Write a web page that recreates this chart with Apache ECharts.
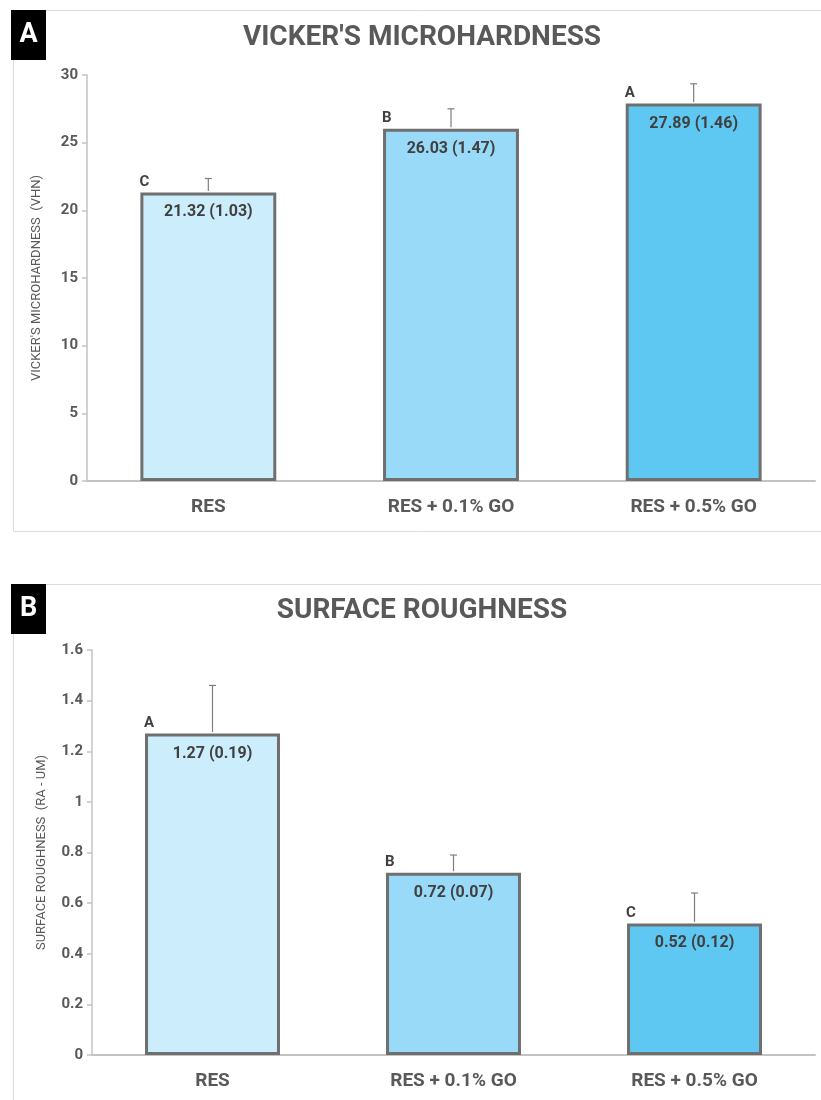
<!DOCTYPE html>
<html>
<head>
<meta charset="utf-8">
<script src="https://cdn.jsdelivr.net/npm/echarts@6/dist/echarts.min.js"></script>
<style>
  html, body { margin: 0; padding: 0; background: #fff; }
  #chart { width: 821px; height: 1100px; }
</style>
</head>
<body>
<div id="chart"></div>
<script>
// groups on the x axis
var groups = ['RES', 'RES + 0.1% GO', 'RES + 0.5% GO'];

// panel A - vicker's microhardness
var vhnMean = [21.32, 26.03, 27.89];
var vhnSd = [1.03, 1.47, 1.46];
var vhnLetters = ['C', 'B', 'A'];

// panel B - surface roughness
var raMean = [1.27, 0.72, 0.52];
var raSd = [0.19, 0.07, 0.12];
var raLetters = ['A', 'B', 'C'];

var barColors = ['#CCEDFB', '#98DAF7', '#5EC8F2'];
var gray = '#595959';
var font = 'Roboto, "Liberation Sans", sans-serif';
var barFrac = 0.56;

function barSeries(idx, means, sds) {
    return {
        type: 'bar',
        xAxisIndex: idx,
        yAxisIndex: idx,
        barWidth: (barFrac * 100) + '%',
        data: means.map(function (v, i) {
            return {
                value: v,
                itemStyle: { color: barColors[i], borderColor: '#6f6f6f', borderWidth: 3 }
            };
        }),
        label: {
            show: true,
            position: 'insideTop',
            distance: 12,
            color: '#404040',
            fontFamily: font,
            fontWeight: 'bold',
            fontSize: 16,
            formatter: function (p) {
                return means[p.dataIndex].toFixed(2) + ' (' + sds[p.dataIndex].toFixed(2) + ')';
            }
        }
    };
}

function errSeries(idx, means, sds, letters) {
    return {
        type: 'custom',
        xAxisIndex: idx,
        yAxisIndex: idx,
        z: 5,
        data: means.map(function (v, i) { return [i, v, sds[i]]; }),
        renderItem: function (params, api) {
            var i = api.value(0);
            var m = api.value(1);
            var sd = api.value(2);
            var top = api.coord([i, m]);
            var hi = api.coord([i, m + sd]);
            var half = api.size([1, 0])[0] * barFrac / 2;
            return {
                type: 'group',
                children: [
                    {
                        type: 'line',
                        shape: { x1: top[0], y1: top[1] - 1.5, x2: hi[0], y2: hi[1] },
                        style: { stroke: '#7f7f7f', lineWidth: 1.2 }
                    },
                    {
                        type: 'line',
                        shape: { x1: hi[0] - 3.5, y1: hi[1], x2: hi[0] + 3.5, y2: hi[1] },
                        style: { stroke: '#7f7f7f', lineWidth: 1.2 }
                    },
                    {
                        type: 'text',
                        x: top[0] - half - 1,
                        y: top[1] - 3,
                        style: {
                            text: letters[params.dataIndex],
                            fill: '#404040',
                            font: 'bold 15px ' + font,
                            align: 'left',
                            verticalAlign: 'bottom'
                        }
                    }
                ]
            };
        }
    };
}

function xAxis(idx) {
    return {
        type: 'category',
        gridIndex: idx,
        data: groups,
        axisLine: { lineStyle: { color: '#c3c3c3', width: 2 } },
        axisTick: { show: false },
        axisLabel: {
            margin: 17,
            color: gray,
            fontFamily: font,
            fontWeight: 'bold',
            fontSize: 19
        }
    };
}

function yAxis(idx, max, interval, name) {
    return {
        type: 'value',
        gridIndex: idx,
        min: 0,
        max: max,
        interval: interval,
        name: name,
        nameLocation: 'middle',
        nameGap: 44,
        nameTextStyle: { color: gray, fontFamily: font, fontSize: 13 },
        axisLine: { show: true, lineStyle: { color: '#c3c3c3', width: 1.5 } },
        axisTick: { show: true, length: 5, lineStyle: { color: '#c3c3c3', width: 1.5 } },
        splitLine: { show: false },
        axisLabel: {
            margin: 9,
            color: gray,
            fontFamily: font,
            fontWeight: 'bold',
            fontSize: 15
        }
    };
}

function panelGraphics(top, letter, title, titleY) {
    return [
        {
            type: 'rect',
            shape: { x: 13.5, y: top + 0.5, width: 820, height: 521 },
            style: { fill: 'none', stroke: '#dcdcdc', lineWidth: 1 }
        },
        {
            type: 'rect',
            shape: { x: 11, y: top, width: 35, height: 50 },
            style: { fill: '#000' }
        },
        {
            type: 'text',
            x: 28.5,
            y: top + 25,
            style: {
                text: letter,
                fill: '#fff',
                font: 'bold 27px ' + font,
                align: 'center',
                verticalAlign: 'middle'
            }
        },
        {
            type: 'text',
            x: 422,
            y: titleY,
            style: {
                text: title,
                fill: gray,
                font: 'bold 28px ' + font,
                align: 'center',
                verticalAlign: 'middle'
            }
        }
    ];
}

var chart = echarts.init(document.getElementById('chart'));
chart.setOption({
    animation: false,
    backgroundColor: '#fff',
    graphic: panelGraphics(10, 'A', "VICKER'S MICROHARDNESS", 38)
        .concat(panelGraphics(584, 'B', 'SURFACE ROUGHNESS', 611)),
    grid: [
        { left: 87, right: 6, top: 75, bottom: 619 },
        { left: 92, right: 6, top: 650, bottom: 45 }
    ],
    xAxis: [xAxis(0), xAxis(1)],
    yAxis: [
        yAxis(0, 30, 5, "VICKER'S MICROHARDNESS  (VHN)"),
        yAxis(1, 1.6, 0.2, 'SURFACE ROUGHNESS  (RA - UM)')
    ],
    series: [
        barSeries(0, vhnMean, vhnSd),
        errSeries(0, vhnMean, vhnSd, vhnLetters),
        barSeries(1, raMean, raSd),
        errSeries(1, raMean, raSd, raLetters)
    ]
});
</script>
</body>
</html>
